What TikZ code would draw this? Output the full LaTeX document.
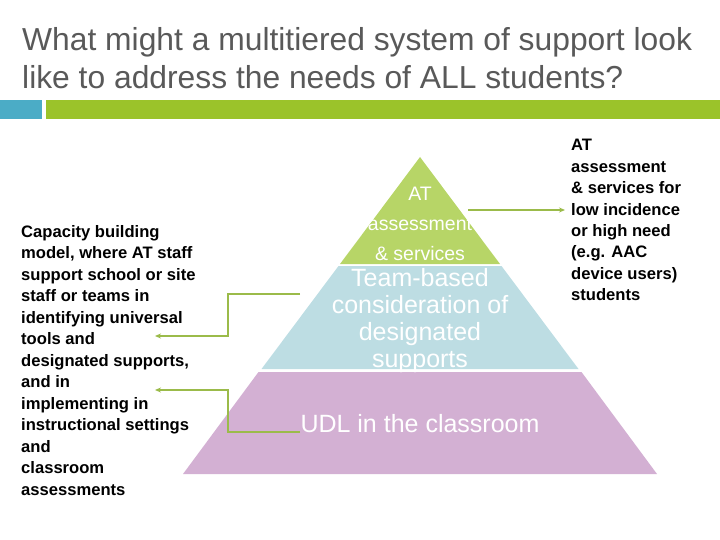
\documentclass[tikz,border=0pt]{standalone}
\usepackage{fontspec}
\setmainfont{Liberation Sans}
\usetikzlibrary{arrows.meta}
\definecolor{titlegray}{HTML}{595959}
\definecolor{barteal}{HTML}{4BACC6}
\definecolor{bargreen}{HTML}{9BC32A}
\definecolor{tiertop}{HTML}{B7D567}
\definecolor{tiermid}{HTML}{BDDDE3}
\definecolor{tierbot}{HTML}{D3B0D3}
\definecolor{arrowgreen}{HTML}{9BBB4A}
\tikzset{
  titletext/.style={anchor=base west,inner sep=0,text=titlegray,font=\fontsize{31.8}{36}\selectfont},
  sidetext/.style={anchor=base west,inner sep=0,text=black,font=\bfseries\fontsize{16.6}{20}\selectfont},
  tiertext/.style={anchor=base,inner sep=0,text=white},
  conn/.style={draw=arrowgreen,line width=1.8pt},
  connarrow/.style={conn,-{Stealth[length=6pt,width=5pt]}},
}
\begin{document}
\begin{tikzpicture}[x=1pt,y=-1pt]
\useasboundingbox (0,0) rectangle (720,540);
% title
\node[titletext] (title1) at (22,51) {What might a multitiered system of support look};
\node[titletext] (title2) at (22,89) {like to address the needs of ALL students?};
% bars
\fill[barteal] (0,100) rectangle (42,119);
\fill[bargreen] (46,100) rectangle (720,119);
% pyramid
\fill[tiertop] (420,157) -- (500,264) -- (340,264) -- cycle;
\fill[tiermid] (338.5,266) -- (501.5,266) -- (578.5,369) -- (261.5,369) -- cycle;
\fill[tierbot] (258.5,372) -- (581.5,372) -- (657,474) -- (183,474) -- cycle;
% tier texts
\foreach \t [count=\i] in {AT,assessment,{\& services}}
  \node[tiertext,font=\fontsize{19.5}{22}\selectfont] (top\i) at (420,201+29.5*\i-29.5) {\t};
\foreach \t [count=\i] in {Team-based,consideration of,designated,supports}
  \node[tiertext,font=\fontsize{25}{28}\selectfont] (mid\i) at (420,286+27.3*\i-27.3) {\t};
\node[tiertext,font=\fontsize{25}{28}\selectfont] (bot1) at (420,432) {UDL in the classroom};
% left text
\foreach \t [count=\i] in {Capacity building,{model, where AT staff},support school or site,staff or teams in,identifying universal,tools and,{designated supports,},and in,implementing in,instructional settings,and,classroom,assessments}
  \node[sidetext] (left\i) at (21,237+21.5*\i-21.5) {\t};
% right text
\foreach \t [count=\i] in {AT,assessment,{\& services for},low incidence,or high need,{(e.g. AAC},{device users)},students}
  \node[sidetext] (right\i) at (571,151+21.4*\i-21.4) {\t};
% connectors
\coordinate (a1s) at (468,210);
\coordinate (a1e) at (565,210);
\draw[connarrow] (a1s) -- (a1e);
\coordinate (a2s) at (300,294);
\coordinate (a2e) at (155,336);
\draw[connarrow] (a2s) -- (228,294) -- (228,336) -- (a2e);
\coordinate (a3s) at (300,432);
\coordinate (a3e) at (155,390);
\draw[connarrow] (a3s) -- (228,432) -- (228,390) -- (a3e);
\end{tikzpicture}
\end{document}
